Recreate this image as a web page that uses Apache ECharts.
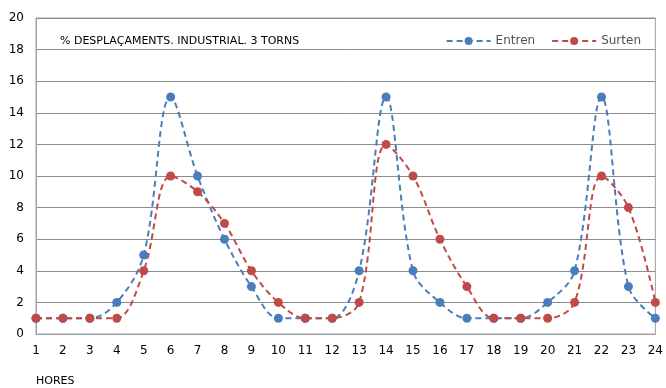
<!DOCTYPE html>
<html><head><meta charset="utf-8">
<script src="https://cdn.jsdelivr.net/npm/echarts@6/dist/echarts.min.js"></script>
<style>html,body{margin:0;padding:0;background:#fff}#c{width:666px;height:388px}</style>
</head><body><div id="c"></div>
<script>
const hours = [1,2,3,4,5,6,7,8,9,10,11,12,13,14,15,16,17,18,19,20,21,22,23,24];
const entren = [1,1,1,2,5,15,10,6,3,1,1,1,4,15,4,2,1,1,1,2,4,15,3,1];
const surten = [1,1,1,1,4,10,9,7,4,2,1,1,2,12,10,6,3,1,1,1,2,10,8,2];
const yTicks = [0,2,4,6,8,10,12,14,16,18,20];
const titleText = '% DESPLAÇAMENTS. INDUSTRIAL. 3 TORNS';
const xName = 'HORES';
const font = 'DejaVu Sans';
const chart = echarts.init(document.getElementById('c'));
const pts = a => a.map((v,i)=>[hours[i], v]);
chart.setOption({
  animation:false,
  textStyle:{fontFamily:font},
  title:{text:titleText,left:55,top:31,textStyle:{fontFamily:font,fontSize:11,fontWeight:'normal',color:'#000'}},
  legend:{right:20,top:30,itemGap:16,itemWidth:44,itemHeight:10,textStyle:{fontFamily:font,fontSize:12,color:'#505050'},
    data:['Entren','Surten']},
  grid:{left:36,right:6,top:18,bottom:54,show:true,borderColor:'#a0a0a0',borderWidth:1},
  xAxis:{type:'value',min:1,max:24,interval:1,
    axisLine:{lineStyle:{color:'#a0a0a0'}},axisTick:{show:false},splitLine:{show:false},
    axisLabel:{fontFamily:font,fontSize:12,color:'#000',margin:11},
    name:xName,nameLocation:'start',nameGap:0,
    nameTextStyle:{fontFamily:font,fontSize:11,color:'#000',align:'left',verticalAlign:'top',padding:[42,0,0,0]}},
  yAxis:{type:'value',min:0,max:20,interval:2,
    axisLine:{show:true,lineStyle:{color:'#a0a0a0'}},axisTick:{show:false},
    splitLine:{lineStyle:{color:'#8c8c8c',width:1}},
    axisLabel:{fontFamily:font,fontSize:12,color:'#000',margin:12}},
  series:[
    {name:'Entren',type:'line',data:pts(entren),smooth:0.35,symbol:'circle',symbolSize:9,
     itemStyle:{color:'#4a7ebb'},lineStyle:{color:'#4a7ebb',width:2,type:[6,4]}},
    {name:'Surten',type:'line',data:pts(surten),smooth:0.35,symbol:'circle',symbolSize:9,
     itemStyle:{color:'#be4b48'},lineStyle:{color:'#be4b48',width:2,type:[6,4]}}
  ]
});
</script></body></html>
